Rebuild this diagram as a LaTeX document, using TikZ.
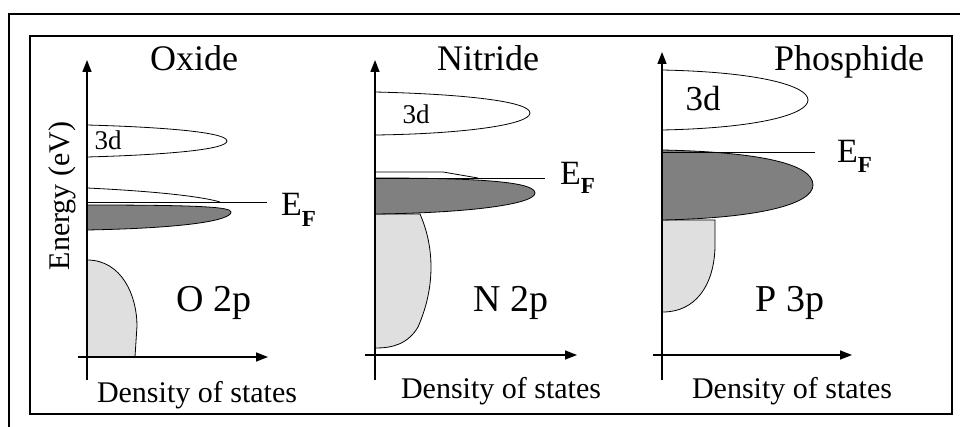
\documentclass[tikz,border=0pt]{standalone}
\usepackage{fontspec}
\setmainfont{Liberation Serif}
\usetikzlibrary{arrows.meta}

\begin{document}
\begin{tikzpicture}[
    x=1pt, y=1pt,
    axis/.style={line width=1.6pt, -{Triangle[length=12pt, width=9pt]}},
    band/.style={line width=0.8pt},
    filled/.style={band, fill=gray},
    core/.style={band, fill=gray!25},
    fermi/.style={line width=0.8pt},
    title/.style={font=\fontsize{36}{40}\selectfont, anchor=base, inner sep=0pt},
    orb/.style={font=\fontsize{38}{42}\selectfont, anchor=base, inner sep=0pt},
    dos/.style={font=\fontsize{30}{34}\selectfont, anchor=base, inner sep=0pt},
    small3d/.style={font=\fontsize{27}{30}\selectfont, anchor=base, inner sep=0pt},
    ef/.style={font=\fontsize{34}{38}\selectfont, anchor=base west, inner sep=0pt},
]
\useasboundingbox (0,0) rectangle (960,426);

% Frames
\draw[line width=2.5pt] (9,-5) -- (9,412) -- (965,412);
\draw[line width=2pt] (30,12) rectangle (952,390);

% Oxide panel
\filldraw[core] (87,166) .. controls (122,166) and (137,130) .. (137,100) -- (135,69) -- (87,69) -- cycle;
\draw[band] (87,301) .. controls (160,299) and (227,294) .. (227,285) .. controls (227,276) and (160,271) .. (87,269);
\draw[band] (87,238) .. controls (150,235) and (200,230) .. (220,224);
\filldraw[filled] (87,221) .. controls (200,221) and (231,219) .. (231,214) .. controls (231,206) and (190,198) .. (87,196) -- cycle;
\draw[fermi] (86,224) -- (267,224);
\draw[axis] (87,46) -- (87,366);
\draw[axis] (78,69) -- (268,69);
\node[title] (oxide) at (194,355) {Oxide};
\node[small3d] (d3oxide) at (108,276) {3d};
\node[orb] (o2p) at (214,115) {O 2p};
\node[ef] (efoxide) at (281,211) {E\raisebox{-11pt}{\fontsize{23}{23}\selectfont\bfseries F}};
\node[dos] (dosoxide) at (197,24) {Density of states};
\node[font=\fontsize{30}{34}\selectfont, rotate=90, anchor=base, inner sep=0pt] (energy) at (69,230) {Energy (eV)};

% Nitride panel
\filldraw[core] (420,212) .. controls (434,180) and (436,140) .. (418,99) .. controls (408,82) and (392,78) .. (377,78) -- (375,78) -- (375,212) -- cycle;
\draw[band] (375,334) .. controls (460,332) and (530,325) .. (530,313) .. controls (530,301) and (460,292) .. (375,291);
\draw[band] (375,254) -- (443,254) -- (478,248);
\filldraw[filled] (375,248) .. controls (470,248) and (535,245) .. (535,233) .. controls (535,222) and (470,213) .. (375,212) -- cycle;
\draw[fermi] (375,248) -- (545,248);
\draw[axis] (375,46) -- (375,366);
\draw[axis] (365,71) -- (577,71);
\node[title] (nitride) at (488,355) {Nitride};
\node[small3d] (d3nitride) at (416,302) {3d};
\node[orb] (n2p) at (511,115) {N 2p};
\node[ef] (efnitride) at (560,241) {E\raisebox{-9pt}{\fontsize{23}{23}\selectfont\bfseries F}};
\node[dos] (dosnitride) at (501,28) {Density of states};

% Phosphide panel
\filldraw[core] (715,206) -- (715,179) .. controls (714,140) and (695,114) .. (663,114) -- (662,114) -- (662,206) -- cycle;
\draw[band] (662,356) .. controls (760,354) and (808,340) .. (808,326) .. controls (808,312) and (760,298) .. (662,296);
\filldraw[filled] (662,276) .. controls (760,274) and (813,262) .. (813,241) .. controls (813,222) and (760,208) .. (662,206) -- cycle;
\draw[fermi] (662,274) -- (815,274);
\draw[axis] (662,46) -- (662,374);
\draw[axis] (653,71) -- (852,71);
\node[title] (phosphide) at (849,355) {Phosphide};
\node[title, font=\fontsize{35}{40}\selectfont] (d3phos) at (703,315) {3d};
\node[orb] (p3p) at (790,115) {P 3p};
\node[ef] (efphos) at (837,263) {E\raisebox{-10pt}{\fontsize{23}{23}\selectfont\bfseries F}};
\node[dos] (dosphos) at (792,28) {Density of states};

\end{tikzpicture}
\end{document}
